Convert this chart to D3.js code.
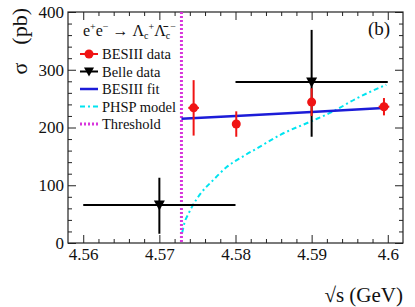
<!DOCTYPE html>
<html>
<head>
<meta charset="utf-8">
<script src="https://cdn.jsdelivr.net/npm/d3@7"></script>
<style>
  body { margin: 0; background: #fff; }
  svg { display: block; }
</style>
</head>
<body>
<div id="chart"></div>
<script>
// BESIII measurements
const besX = [4.5745, 4.5801, 4.5900, 4.5995];
const besY = [234, 206, 244, 236];
const besErr = [48, 22, 24, 15];
const besXErr = [0.0007, 0.0004, 0.0004, 0.0007];

// Belle measurements (binned)
const belleX = [4.57, 4.59];
const belleLo = [4.56, 4.58];
const belleHi = [4.58, 4.60];
const belleY = [66, 279];
const belleErrUp = [47, 90];
const belleErrDn = [50, 95];

// BESIII fit line
const fitX = [4.5729, 4.58, 4.59, 4.60];
const fitY = [215, 220, 227, 234];

// phase space model curve
const phspX = [4.5730, 4.5733, 4.5738, 4.5743, 4.5755, 4.5770, 4.5788, 4.5810, 4.5831, 4.5860, 4.5898, 4.5927, 4.5960, 4.5998];
const phspY = [18, 35, 50, 63, 87, 108, 131, 150, 166, 188, 210, 227, 251, 274];

const threshold = 4.5729;

// axis ticks
const xTickVals = [4.56, 4.57, 4.58, 4.59, 4.6];
const xTickLabels = ["4.56", "4.57", "4.58", "4.59", "4.6"];
const yTickVals = [0, 100, 200, 300, 400];
const yTickLabels = ["0", "100", "200", "300", "400"];

const legendLabels = ["BESIII data", "Belle data", "BESIII fit", "PHSP model", "Threshold"];

const width = 415;
const height = 307;
const serif = '"Liberation Serif"';
const red = "#f01414";
const blue = "#1c1cd8";
const cyan = "#00e4f0";
const magenta = "#d835dc";

const svg = d3.select("#chart").append("svg")
  .attr("width", width)
  .attr("height", height);

const x = d3.scaleLinear().domain([4.558, 4.602]).range([68, 403]);
const y = d3.scaleLinear().domain([0, 400]).range([243, 12]);

// minor tick values
const xMinor = d3.range(4.56, 4.6001, 0.002).filter((v) => !xTickVals.some((t) => Math.abs(t - v) < 1e-6));
const yMinor = d3.range(0, 401, 20).filter((v) => v % 100 !== 0);

function styleAxis(g) {
  g.select(".domain").remove();
  g.selectAll("line").attr("stroke", "#222");
  g.selectAll("text")
    .style("font-family", serif)
    .style("font-size", "17px")
    .attr("fill", "#111");
}

// bottom
svg.append("g")
  .attr("transform", `translate(0,${y(0)})`)
  .call(d3.axisBottom(x).tickValues(xTickVals).tickSize(-8).tickSizeOuter(0).tickPadding(5)
    .tickFormat((d, i) => xTickLabels[i]))
  .call(styleAxis);
svg.append("g")
  .attr("transform", `translate(0,${y(0)})`)
  .call(d3.axisBottom(x).tickValues(xMinor).tickSize(-4).tickSizeOuter(0).tickFormat(""))
  .call(styleAxis);
// top
svg.append("g")
  .attr("transform", `translate(0,${y(400)})`)
  .call(d3.axisTop(x).tickValues(xTickVals).tickSize(-8).tickSizeOuter(0).tickFormat(""))
  .call(styleAxis);
svg.append("g")
  .attr("transform", `translate(0,${y(400)})`)
  .call(d3.axisTop(x).tickValues(xMinor).tickSize(-4).tickSizeOuter(0).tickFormat(""))
  .call(styleAxis);
// left
svg.append("g")
  .attr("transform", `translate(${x.range()[0]},0)`)
  .call(d3.axisLeft(y).tickValues(yTickVals).tickSize(-8).tickSizeOuter(0).tickPadding(4)
    .tickFormat((d, i) => yTickLabels[i]))
  .call(styleAxis);
svg.append("g")
  .attr("transform", `translate(${x.range()[0]},0)`)
  .call(d3.axisLeft(y).tickValues(yMinor).tickSize(-4).tickSizeOuter(0).tickFormat(""))
  .call(styleAxis);
// right
svg.append("g")
  .attr("transform", `translate(${x.range()[1]},0)`)
  .call(d3.axisRight(y).tickValues(yTickVals).tickSize(-8).tickSizeOuter(0).tickFormat(""))
  .call(styleAxis);
svg.append("g")
  .attr("transform", `translate(${x.range()[1]},0)`)
  .call(d3.axisRight(y).tickValues(yMinor).tickSize(-4).tickSizeOuter(0).tickFormat(""))
  .call(styleAxis);

// frame
svg.append("rect")
  .attr("x", x.range()[0])
  .attr("y", y.range()[1])
  .attr("width", x.range()[1] - x.range()[0])
  .attr("height", y.range()[0] - y.range()[1])
  .attr("fill", "none")
  .attr("stroke", "#222")
  .attr("stroke-width", 1.2);

// PHSP model
svg.append("path")
  .datum(phspX.map((d, i) => [d, phspY[i]]))
  .attr("fill", "none")
  .attr("stroke", cyan)
  .attr("stroke-width", 2)
  .attr("stroke-dasharray", "5,3,2,3")
  .attr("d", d3.line().x((d) => x(d[0])).y((d) => y(d[1])).curve(d3.curveMonotoneX));

// threshold
svg.append("line")
  .attr("x1", x(threshold)).attr("x2", x(threshold))
  .attr("y1", y(400)).attr("y2", y(0))
  .attr("stroke", magenta)
  .attr("stroke-width", 3)
  .attr("stroke-dasharray", "2,2");

// BESIII fit
svg.append("path")
  .datum(fitX.map((d, i) => [d, fitY[i]]))
  .attr("fill", "none")
  .attr("stroke", blue)
  .attr("stroke-width", 2.5)
  .attr("d", d3.line().x((d) => x(d[0])).y((d) => y(d[1])));

// Belle data
const belle = svg.append("g").attr("stroke", "#000").attr("stroke-width", 2);
belleX.forEach((bx, i) => {
  belle.append("line")
    .attr("x1", x(belleLo[i])).attr("x2", x(belleHi[i]))
    .attr("y1", y(belleY[i])).attr("y2", y(belleY[i]));
  belle.append("line")
    .attr("x1", x(bx)).attr("x2", x(bx))
    .attr("y1", y(belleY[i] + belleErrUp[i])).attr("y2", y(belleY[i] - belleErrDn[i]));
});
svg.append("g").selectAll("path")
  .data(belleX)
  .join("path")
  .attr("transform", (d, i) => `translate(${x(d)},${y(belleY[i])})`)
  .attr("d", "M-5.5,-4.5L5.5,-4.5L0,5.5Z")
  .attr("fill", "#000");

// BESIII data
const bes = svg.append("g").attr("stroke", red).attr("stroke-width", 2);
besX.forEach((bx, i) => {
  bes.append("line")
    .attr("x1", x(bx)).attr("x2", x(bx))
    .attr("y1", y(besY[i] + besErr[i])).attr("y2", y(besY[i] - besErr[i]));
  bes.append("line")
    .attr("x1", x(bx - besXErr[i])).attr("x2", x(bx + besXErr[i]))
    .attr("y1", y(besY[i])).attr("y2", y(besY[i]));
});
svg.append("g").selectAll("circle")
  .data(besX)
  .join("circle")
  .attr("cx", (d) => x(d))
  .attr("cy", (d, i) => y(besY[i]))
  .attr("r", 4.5)
  .attr("fill", red);

// legend
const leg = svg.append("g").attr("fill", "#111");
const title = leg.append("text").attr("x", 83).attr("y", 36)
  .style("font-family", serif).style("font-size", "16px");
title.append("tspan").text("e");
title.append("tspan").attr("dy", -6).style("font-size", "10px").text("+");
title.append("tspan").attr("dy", 6).text("e");
title.append("tspan").attr("dy", -6).style("font-size", "10px").text("−");
title.append("tspan").attr("dy", 6).text(" → Λ");
title.append("tspan").attr("dy", 3).style("font-size", "10px").text("c");
title.append("tspan").attr("dy", -9).style("font-size", "10px").text("+");
title.append("tspan").attr("dy", 6).text("Λ̄");
title.append("tspan").attr("dy", 3).style("font-size", "10px").text("c");
title.append("tspan").attr("dy", -9).style("font-size", "10px").text("−");

const rowY = (i) => 54 + i * 17.5;
const sx0 = 80, sx1 = 98, sxc = 89;
legendLabels.forEach((label, i) => {
  leg.append("text").attr("x", 102).attr("y", rowY(i) + 5)
    .style("font-family", serif).style("font-size", "14.5px")
    .text(label);
});
// legend symbols
leg.append("line").attr("x1", sx0).attr("x2", sx1).attr("y1", rowY(0)).attr("y2", rowY(0))
  .attr("stroke", red).attr("stroke-width", 2);
leg.append("circle").attr("cx", sxc).attr("cy", rowY(0)).attr("r", 4.5).attr("fill", red);
leg.append("line").attr("x1", sx0).attr("x2", sx1).attr("y1", rowY(1)).attr("y2", rowY(1))
  .attr("stroke", "#000").attr("stroke-width", 2);
leg.append("path").attr("transform", `translate(${sxc},${rowY(1)})`)
  .attr("d", "M-5,-4L5,-4L0,5Z").attr("fill", "#000");
leg.append("line").attr("x1", sx0).attr("x2", sx1).attr("y1", rowY(2)).attr("y2", rowY(2))
  .attr("stroke", blue).attr("stroke-width", 2.5);
leg.append("line").attr("x1", sx0).attr("x2", sx1).attr("y1", rowY(3)).attr("y2", rowY(3))
  .attr("stroke", cyan).attr("stroke-width", 2).attr("stroke-dasharray", "5,3,2,3");
leg.append("line").attr("x1", sx0).attr("x2", sx1).attr("y1", rowY(4)).attr("y2", rowY(4))
  .attr("stroke", magenta).attr("stroke-width", 3).attr("stroke-dasharray", "2,2");

// panel label
svg.append("text").attr("x", 368).attr("y", 35)
  .style("font-family", serif).style("font-size", "19px")
  .attr("fill", "#111").text("(b)");

// axis titles
svg.append("text")
  .attr("text-anchor", "end")
  .attr("x", 403).attr("y", 302)
  .style("font-family", serif).style("font-size", "21px")
  .attr("fill", "#111")
  .text("√s (GeV)");

const yt = svg.append("text")
  .attr("transform", "translate(27,8) rotate(-90)")
  .attr("text-anchor", "end")
  .style("font-family", serif).style("font-size", "22px")
  .attr("fill", "#111");
yt.append("tspan").text("σ");
yt.append("tspan").attr("dx", 18).text("(pb)");
</script>
</body>
</html>
